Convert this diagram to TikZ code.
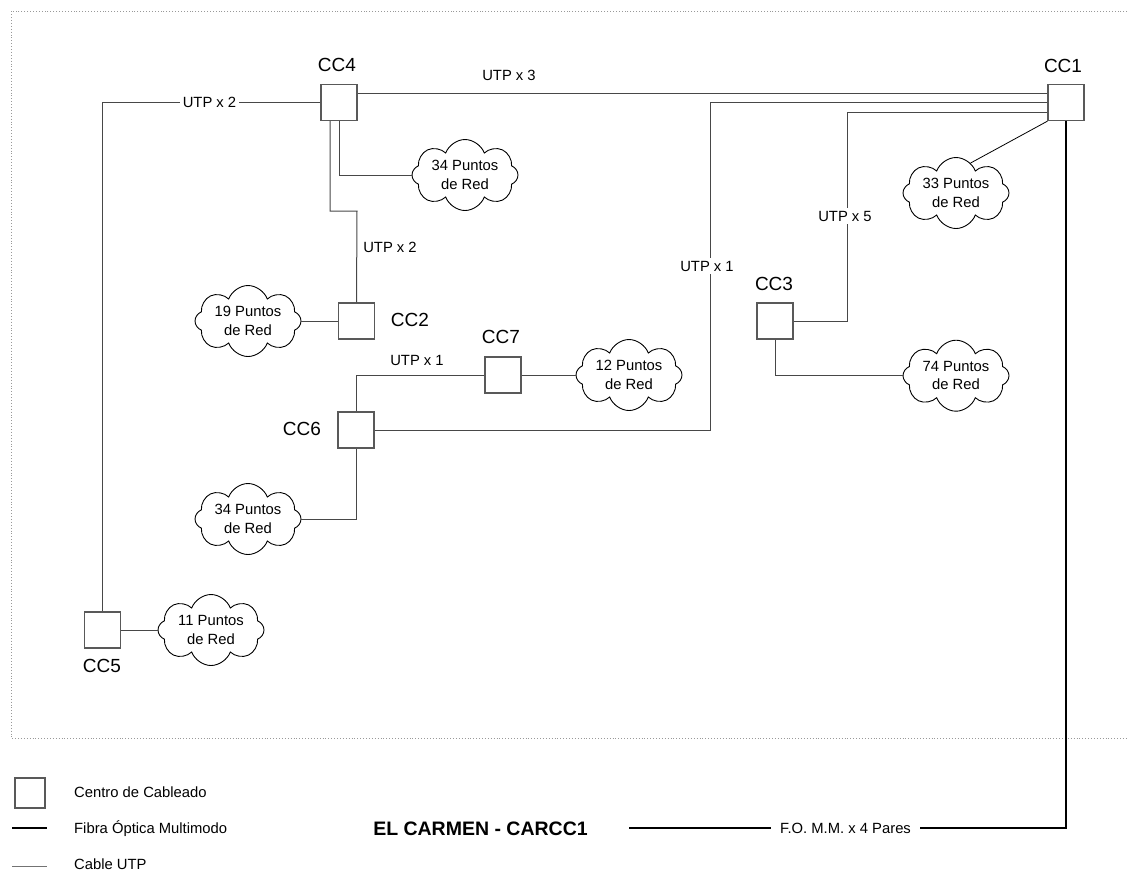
\documentclass[tikz,border=0pt]{standalone}
\usepackage{fontspec}
\setmainfont{Liberation Sans}
\usetikzlibrary{shapes.symbols}
\begin{document}
\begin{tikzpicture}[x=1pt,y=-1pt,
  ccbox/.style={draw=black!65, line width=1.1pt, fill=white, minimum width=36pt, minimum height=36pt, inner sep=0pt},
  netcloud/.style={cloud, cloud puffs=8, cloud puff arc=140, cloud ignores aspect, draw=black, line width=0.9pt, fill=white,
    minimum width=106pt, minimum height=71pt, inner sep=0pt, align=center, font=\fontsize{14.8}{18.5}\selectfont},
  utp/.style={draw=black!72, line width=1pt},
  fiber/.style={draw=black, line width=2.6pt},
  cclabel/.style={font=\fontsize{19}{22}\selectfont, inner sep=0pt, anchor=base},
  small/.style={font=\fontsize{14.8}{17}\selectfont, inner sep=0pt, anchor=base},
  gaplabel/.style={font=\fontsize{14.8}{17}\selectfont, fill=white, inner sep=3pt, anchor=base},
]
\useasboundingbox (0,0) rectangle (1128,871);
% frame
\draw[black!40, dotted, line width=0.9pt] (1130,11) -- (11,11) -- (11,738) -- (1130,738);

% wiring centres
\node[ccbox] (cc4) at (339,102.6) {};
\node[ccbox] (cc1) at (1066,102.6) {};
\node[ccbox] (cc2) at (356.5,321) {};
\node[ccbox] (cc3) at (775,321) {};
\node[ccbox] (cc5) at (102.5,630) {};
\node[ccbox] (cc6) at (356,430) {};
\node[ccbox] (cc7) at (503,375) {};

% labels of the centres
\node[cclabel] (l4) at (337,71.8) {CC4};
\node[cclabel] (l1) at (1063,72.8) {CC1};
\node[cclabel] (l2) at (410,326.8) {CC2};
\node[cclabel] (l3) at (774,290.8) {CC3};
\node[cclabel] (l5) at (102,672.8) {CC5};
\node[cclabel] (l6) at (302,435) {CC6};
\node[cclabel] (l7) at (501,343.8) {CC7};

% clouds
\node[netcloud] (c34a) at (465,175) {34 Puntos\\de Red};
\node[netcloud] (c33) at (956,193) {33 Puntos\\de Red};
\node[netcloud] (c19) at (248,321) {19 Puntos\\de Red};
\node[netcloud] (c12) at (629,375) {12 Puntos\\de Red};
\node[netcloud] (c74) at (956,375.7) {74 Puntos\\de Red};
\node[netcloud] (c34b) at (248,519) {34 Puntos\\de Red};
\node[netcloud] (c11) at (211,630) {11 Puntos\\de Red};

% UTP links
\draw[utp] (cc4.east |- 0,93.3) -- (cc1.west |- 0,93.3);
\node[small] (t3) at (509,80.2) {UTP x 3};
\draw[utp] (cc4.west) -| (cc5.north);
\node[gaplabel] (t2a) at (209.5,107.9) {UTP x 2};
\draw[utp] (cc4.south -| 330,0) |- (357,211) -- (cc2.north);
\node[small] (t2b) at (390,252.2) {UTP x 2};
\draw[utp] (cc4.south) |- (c34a.west);
\draw[utp] (cc1.west) -| (cc6.east -| 710.5,0) -- (cc6.east);
\node[gaplabel] (t1a) at (707,271.2) {UTP x 1};
\draw[utp] (cc1.west |- 0,112) -| (cc3.east -| 847.5,0) -- (cc3.east);
\node[gaplabel] (t5) at (845,221.2) {UTP x 5};
\draw[black, line width=0.8pt] (cc1.south west) -- (c33.64);
\draw[utp] (c19.east) -- (cc2.west);
\draw[utp] (cc6.north) |- (cc7.west);
\node[small] (t1b) at (417,365.2) {UTP x 1};
\draw[utp] (cc7.east) -- (c12.west);
\draw[utp] (cc6.south) |- (c34b.east);
\draw[utp] (cc3.south) |- (c74.west);
\draw[utp] (cc5.east) -- (c11.west);

% fibre
\coordinate (foend) at (629,828);
\draw[fiber] (cc1.south) |- (foend);
\node[gaplabel, minimum width=149pt] (fo) at (845.5,833.2) {F.O. M.M. x 4 Pares};

% title
\node[font=\bfseries\fontsize{19.5}{22}\selectfont, inner sep=0pt, anchor=base] (title) at (480.5,835) {EL CARMEN - CARCC1};

% legend
\node[ccbox, minimum width=30pt, minimum height=30pt] (legbox) at (30,793) {};
\node[small, anchor=base west] (lt1) at (74,797.2) {Centro de Cableado};
\coordinate (lf1) at (12,828);
\coordinate (lf2) at (47,828);
\draw[fiber] (lf1) -- (lf2);
\node[small, anchor=base west] (lt2) at (74,833.2) {Fibra Óptica Multimodo};
\coordinate (lu1) at (12,866);
\coordinate (lu2) at (47,866);
\draw[utp, draw=black!55] (lu1) -- (lu2);
\node[small, anchor=base west] (lt3) at (74,869.2) {Cable UTP};
\end{tikzpicture}
\end{document}
